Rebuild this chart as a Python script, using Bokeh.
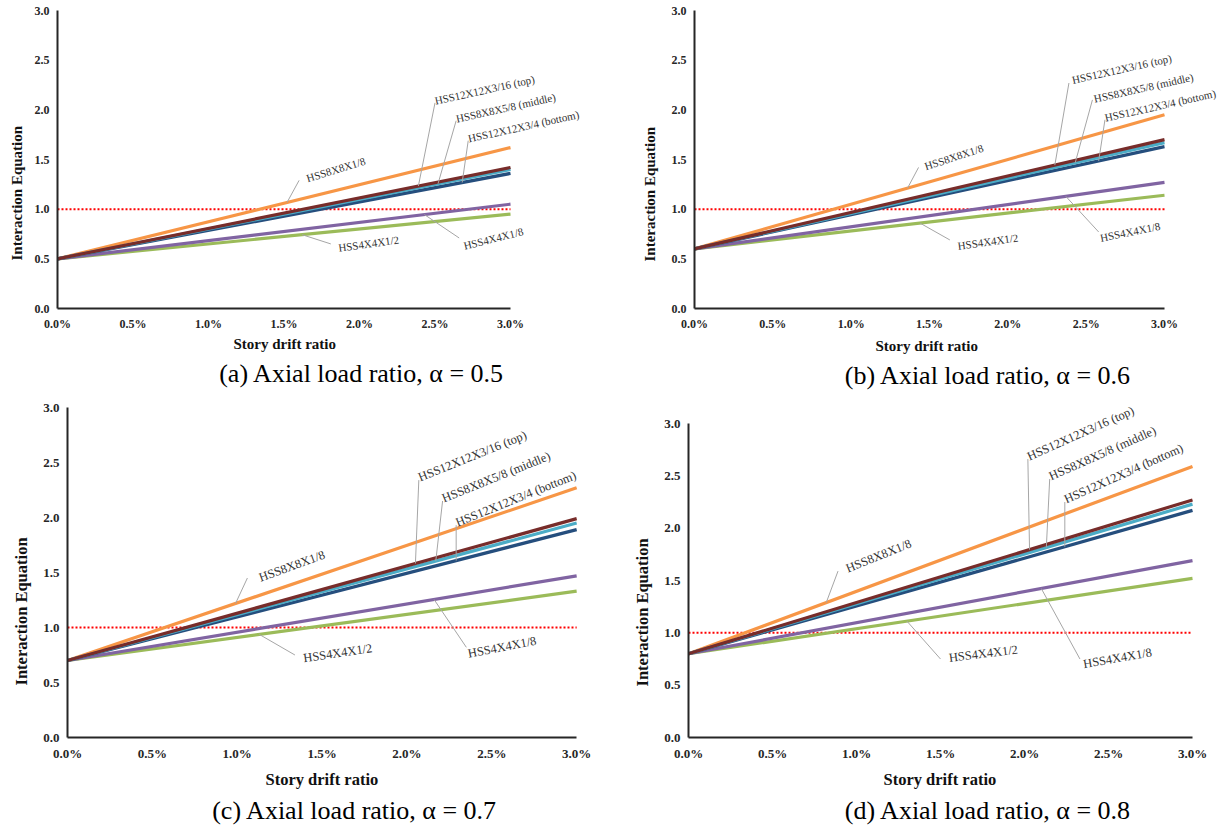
import numpy as np
from bokeh.plotting import figure
from bokeh.models import Range1d, ColumnDataSource, FixedTicker, PrintfTickFormatter, Title
from bokeh.layouts import column, row
from bokeh.core.properties import value
from bokeh.embed import file_html
from bokeh.resources import INLINE

# ---------------- data ----------------
drift_pct = [0.0, 3.0]                      # story drift ratio (%)
axial_ratio = [0.5, 0.6, 0.7, 0.8]          # alpha = starting value of every line
panel_tags = ["(a)", "(b)", "(c)", "(d)"]

series_names = ["HSS8X8X1/8", "HSS12X12X3/16 (top)", "HSS8X8X5/8 (middle)",
                "HSS12X12X3/4 (bottom)", "HSS4X4X1/8", "HSS4X4X1/2"]
# interaction-equation value at 3.0 % drift, one per panel (a..d)
end_hss8x8x1_8 = [1.62, 1.95, 2.27, 2.59]
end_hss12_top = [1.42, 1.70, 1.99, 2.27]
end_hss8_middle = [1.40, 1.67, 1.95, 2.23]
end_hss12_bottom = [1.36, 1.63, 1.89, 2.17]
end_hss4x4x1_8 = [1.05, 1.27, 1.47, 1.69]
end_hss4x4x1_2 = [0.95, 1.14, 1.33, 1.52]
end_values = [end_hss8x8x1_8, end_hss12_top, end_hss8_middle,
              end_hss12_bottom, end_hss4x4x1_8, end_hss4x4x1_2]

x_ticks = [0.0, 0.5, 1.0, 1.5, 2.0, 2.5, 3.0]
y_ticks = [0.0, 0.5, 1.0, 1.5, 2.0, 2.5, 3.0]
axis_limits = (0.0, 3.0)
limit_value = 1.0

# ---------------- styles / layout ----------------
COLORS = {"HSS8X8X1/8": "#F79646", "HSS12X12X3/16 (top)": "#772C2A",
          "HSS8X8X5/8 (middle)": "#4BACC6", "HSS12X12X3/4 (bottom)": "#254E7D",
          "HSS4X4X1/8": "#8064A2", "HSS4X4X1/2": "#9BBB59"}
DRAW_ORDER = ["HSS4X4X1/2", "HSS4X4X1/8", "HSS8X8X1/8", "HSS12X12X3/4 (bottom)",
              "HSS8X8X5/8 (middle)", "HSS12X12X3/16 (top)"]
SERIF = "Liberation Serif"

# canvas w/h; x0,x3 = pixel of 0 % and 3 % ; y0,y3 = pixel of 0.0 and 3.0 (canvas coords)
# (frames in one row share the same bottom border)
BOX = [dict(w=620, h=398, x0=57, x3=510, y0=308, y3=10, tick=12, title=15, note=11,
            ytoff=48, ytstand=13, xtoff=176, xtstand=0, capoff=116, capstand=10),
       dict(w=606, h=398, x0=74, x3=544, y0=308, y3=10, tick=12, title=15, note=11,
            ytoff=47, ytstand=22, xtoff=181, xtstand=4, capoff=95, capstand=6),
       dict(w=620, h=430, x0=65, x3=576, y0=339, y3=9, tick=13, title=16.5, note=12.5,
            ytoff=52, ytstand=19, xtoff=198, xtstand=8, capoff=123, capstand=2),
       dict(w=606, h=430, x0=68, x3=572, y0=339, y3=25, tick=13, title=16.5, note=12.5,
            ytoff=51, ytstand=20, xtoff=195, xtstand=8, capoff=95, capstand=2)]

# annotation layout per panel: name -> (text x, text y, angle deg, leader x on line, leader end x, leader end y)
NOTES = [
    {"HSS12X12X3/16 (top)": (2.50, 2.09, 12.5, 2.39, 2.50, 2.07),
     "HSS8X8X5/8 (middle)": (2.64, 1.91, 12.5, 2.52, 2.64, 1.89),
     "HSS12X12X3/4 (bottom)": (2.72, 1.71, 12.5, 2.68, 2.72, 1.69),
     "HSS8X8X1/8": (1.65, 1.31, 17, 1.52, 1.60, 1.29),
     "HSS4X4X1/2": (1.86, 0.61, 8, 1.62, 1.81, 0.65),
     "HSS4X4X1/8": (2.69, 0.63, 14, 2.43, 2.66, 0.71)},
    {"HSS12X12X3/16 (top)": (2.41, 2.30, 12.6, 2.30, 2.39, 2.27),
     "HSS8X8X5/8 (middle)": (2.55, 2.11, 12.6, 2.43, 2.54, 2.10),
     "HSS12X12X3/4 (bottom)": (2.62, 1.92, 12.6, 2.58, 2.62, 1.90),
     "HSS8X8X1/8": (1.47, 1.43, 18, 1.36, 1.43, 1.42),
     "HSS4X4X1/2": (1.68, 0.63, 8, 1.44, 1.63, 0.69),
     "HSS4X4X1/8": (2.59, 0.71, 11.5, 2.37, 2.58, 0.77)},
    {"HSS12X12X3/16 (top)": (2.07, 2.36, 22, 2.05, 2.07, 2.34),
     "HSS8X8X5/8 (middle)": (2.21, 2.17, 22, 2.17, 2.21, 2.15),
     "HSS12X12X3/4 (bottom)": (2.29, 1.95, 22, 2.29, 2.29, 1.93),
     "HSS8X8X1/8": (1.13, 1.45, 20, 0.99, 1.06, 1.45),
     "HSS4X4X1/2": (1.39, 0.72, 8.5, 1.13, 1.34, 0.75),
     "HSS4X4X1/8": (2.36, 0.76, 11, 2.16, 2.35, 0.82)},
    {"HSS12X12X3/16 (top)": (2.02, 2.68, 24, 2.03, 2.02, 2.66),
     "HSS8X8X5/8 (middle)": (2.15, 2.49, 24, 2.13, 2.15, 2.47),
     "HSS12X12X3/4 (bottom)": (2.24, 2.27, 24, 2.24, 2.24, 2.25),
     "HSS8X8X1/8": (0.94, 1.61, 22, 0.82, 0.89, 1.59),
     "HSS4X4X1/2": (1.55, 0.76, 7, 1.30, 1.50, 0.75),
     "HSS4X4X1/8": (2.35, 0.70, 10, 2.10, 2.33, 0.75)},
]


def build_panel(i):
    B = BOX[i]
    fw = B["w"] - B["x0"]
    fh = B["y0"]
    xmax = axis_limits[1] * fw / (B["x3"] - B["x0"])
    ymax = axis_limits[1] * fh / (B["y0"] - B["y3"])
    p = figure(width=B["w"], height=B["h"], x_range=Range1d(0, xmax), y_range=Range1d(0, ymax),
               output_backend="svg", toolbar_location=None, title=None,
               min_border_left=B["x0"], min_border_right=0,
               min_border_top=0, min_border_bottom=B["h"] - B["y0"])
    p.grid.visible = False
    p.outline_line_color = None
    p.background_fill_color = "white"
    p.border_fill_color = "white"

    for ax in (p.xaxis[0], p.yaxis[0]):
        ax.bounds = axis_limits
        ax.axis_line_color = "#262626"
        ax.axis_line_width = 2
        ax.major_tick_line_color = None
        ax.minor_tick_line_color = None
        ax.major_tick_out = 0
        ax.major_tick_in = 0
        ax.minor_tick_out = 0
        ax.minor_tick_in = 0
        ax.major_label_text_font = SERIF
        ax.major_label_text_font_style = "bold"
        ax.major_label_text_font_size = f"{B['tick']}px"
        ax.major_label_text_color = "#262626"
        ax.major_label_standoff = 8
    p.xaxis.ticker = FixedTicker(ticks=x_ticks)
    p.xaxis.formatter = PrintfTickFormatter(format="%.1f%%")
    p.yaxis.ticker = FixedTicker(ticks=y_ticks)
    p.yaxis.formatter = PrintfTickFormatter(format="%.1f")

    # limit line (dotted red at 1.0)
    p.line(drift_pct, [limit_value] * len(drift_pct), line_color="#FF0000",
           line_width=2, line_dash="2 2")

    # series lines
    for name in DRAW_ORDER:
        k = series_names.index(name)
        ys = [axial_ratio[i], end_values[k][i]]
        p.line(drift_pct, ys, line_color=COLORS[name], line_width=3.2)

    # leader lines + labels
    x0, y0, x1, y1 = [], [], [], []
    tx, ty, tt, ta = [], [], [], []
    for name, (lx, ly, ang, sx, ex, ey) in NOTES[i].items():
        k = series_names.index(name)
        ys = [axial_ratio[i], end_values[k][i]]
        x0.append(sx)
        y0.append(float(np.interp(sx, drift_pct, ys)))
        x1.append(ex)
        y1.append(ey)
        tx.append(lx); ty.append(ly); tt.append(name); ta.append(ang)
    p.segment(x0=x0, y0=y0, x1=x1, y1=y1, line_color="#A6A6A6", line_width=1)
    src = ColumnDataSource(dict(x=tx, y=ty, text=tt, angle=ta))
    p.text(x="x", y="y", text="text", angle="angle", angle_units="deg", source=src,
           text_font=value(SERIF), text_font_size=value(f"{B['note']}px"),
           text_color="#333333", text_align="left", text_baseline="alphabetic")

    # axis titles and caption as title panels
    p.add_layout(Title(text="Interaction  Equation", align="left", offset=B["ytoff"],
                       text_font=SERIF, text_font_style="bold",
                       text_font_size=f"{B['title']}px", text_color="#111111",
                       standoff=B["ytstand"]), "left")
    p.add_layout(Title(text="Story drift ratio", align="left", offset=B["xtoff"],
                       text_font=SERIF, text_font_style="bold",
                       text_font_size=f"{B['title']}px", text_color="#111111",
                       standoff=B["xtstand"]), "below")
    p.add_layout(Title(text=f"{panel_tags[i]} Axial load ratio, \u03b1 = {axial_ratio[i]}",
                       align="right", offset=B["capoff"], text_font=SERIF,
                       text_font_style="normal", text_font_size="26px",
                       text_color="#000000", standoff=B["capstand"]), "below")
    return p


panels = [build_panel(i) for i in range(4)]
layout = column(row(panels[0], panels[1]), row(panels[2], panels[3]))

open("out.html", "w").write(file_html(layout, INLINE))
